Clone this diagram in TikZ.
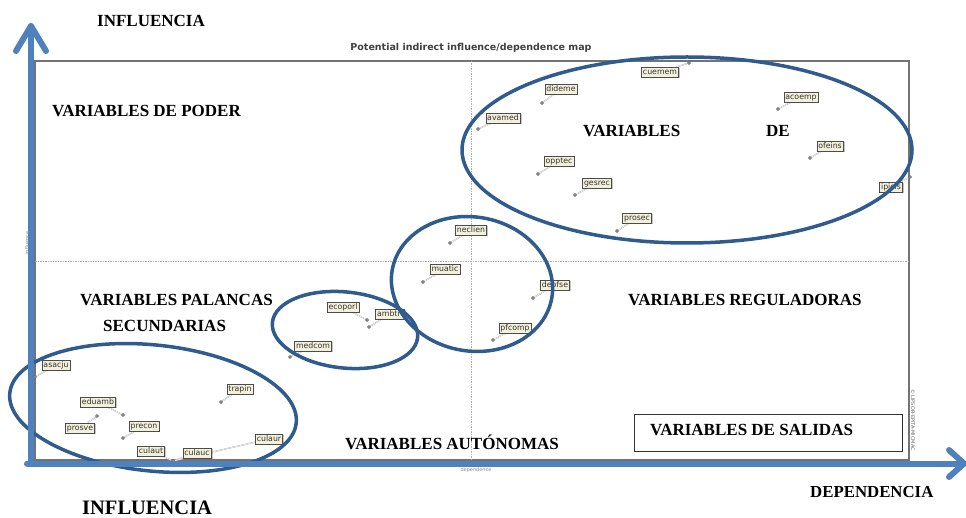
\documentclass[tikz,border=0pt]{standalone}
\usepackage{fontspec}
\setmainfont{Liberation Serif}
\newfontfamily\tagfont{DejaVu Sans}
\usetikzlibrary{shadows}

\definecolor{axisblue}{HTML}{4F81BD}
\definecolor{ringblue}{HTML}{2F5B8E}
\definecolor{tagfill}{HTML}{F3F1DA}

\pgfdeclarelayer{grid}
\pgfdeclarelayer{links}
\pgfsetlayers{grid,links,main}

\begin{document}
\begin{tikzpicture}[x=1pt,y=-1pt,
  axisline/.style={draw=axisblue, line width=6pt, line cap=round, line join=round},
  ring/.style={draw=ringblue, line width=3.5pt},
  zone/.style={font=\fontsize{17}{18}\selectfont\bfseries, anchor=base west, inner sep=0pt},
  tag/.style={draw=black!70, fill=tagfill, text=black!80,
    font=\tagfont\fontsize{7.8}{8}\selectfont, text height=6pt, text depth=1.5pt,
    inner xsep=1.5pt, inner ysep=1.1pt,
    drop shadow={shadow xshift=1.3pt, shadow yshift=-1.3pt, fill=black!45}},
  pin/.style={circle, fill=black!45, draw=black!60, line width=0.3pt, minimum size=3.2pt, inner sep=0pt},
  leader/.style={draw=black!35, double=white, double distance=0.5pt, line width=0.35pt},
  midline/.style={draw=black!30, line width=0.7pt, dash pattern=on 1.5pt off 1pt},
  faint/.style={font=\tagfont\fontsize{5}{6}\selectfont, text=black!45, inner sep=0pt}
]
\useasboundingbox (0,0) rectangle (966,518);

% plot frame, quadrant lines and frame texts
\begin{pgfonlayer}{grid}
  \draw[black!55, line width=1.3pt] (35,61) rectangle (909,460);
  \coordinate (vtop) at (471,61);
  \coordinate (vbot) at (471,460);
  \coordinate (hl) at (35,261);
  \coordinate (hr) at (909,261);
  \draw[midline] (vtop) -- (vbot);
  \draw[midline] (hl) -- (hr);
\end{pgfonlayer}
\node[font=\tagfont\bfseries\fontsize{9.5}{10}\selectfont, text=black!75] (title) at (471,48)
  {Potential indirect influence/dependence map};
\node[faint, rotate=-90, text=black!60] (copyright) at (913,420) {© LIPSOR-EPITA-MICMAC};
\node[faint] (deplabel) at (476,470) {dependence};
\node[faint, rotate=90] (inflabel) at (27,243) {influence};

% variables: name / label position / point position
\foreach \n/\tx/\ty/\mx/\my in {
  cuemem/660/72/689/63, dideme/561/89/542/103, acoemp/801/97/778/109,
  avamed/503/118/478/129, ofeins/830/146/810/158, opptec/559/161/538/174,
  gesrec/597/183/575/195, ipicis/891/187/910/177, prosec/637/218/617/231,
  neclien/471/230/450/243, muatic/445/269/423/282, deofse/555/285/533/298,
  pfcomp/515/328/493/340, ecoporl/343/307/367/320, ambtri/390/314/369/327,
  medcom/313/346/290/357, asacju/56/365/35/377, trapin/240/389/221/402,
  eduamb/98/402/123/415, prosve/80/428/97/416, precon/144/426/123/438}{
  \node[pin] (m-\n) at (\mx,\my) {};
  \node[tag] (\n) at (\tx,\ty) {\n};
  \begin{pgfonlayer}{links}
    \draw[leader] (m-\n) -- (\n);
  \end{pgfonlayer}
}
% three variables sharing one point
\node[pin] (m-cul) at (173,461) {};
\foreach \n/\tx/\ty in {culaut/151/451, culauc/197/453, culaur/269/439}{
  \node[tag] (\n) at (\tx,\ty) {\n};
  \begin{pgfonlayer}{links}
    \draw[leader] (m-cul) -- (\n);
  \end{pgfonlayer}
}

% groups of variables
\draw[ring] (687,150) ellipse [x radius=225pt, y radius=93pt];
\draw[ring, rotate around={-10:(472,284)}] (472,284) ellipse [x radius=81pt, y radius=67pt];
\draw[ring, rotate around={-6:(345,330)}] (345,330) ellipse [x radius=73pt, y radius=38pt];
\draw[ring, rotate around={-6:(153,408)}] (153,408) ellipse [x radius=144pt, y radius=63pt];

% zone names
\node[zone] (poder) at (52,117) {VARIABLES DE PODER};
\node[zone] (enlace1) at (583,137) {VARIABLES};
\node[zone] (enlace2) at (766,137) {DE};
\node[zone] (palancas) at (80,306) {VARIABLES PALANCAS};
\node[zone] (secund) at (103,332) {SECUNDARIAS};
\node[zone] (regul) at (628,306) {VARIABLES REGULADORAS};
\node[zone] (auton) at (345,449) {VARIABLES AUTÓNOMAS};
\node[draw=black!80, line width=0.8pt, minimum width=268pt, minimum height=37pt] (salbox) at (768,432.5) {};
\node[zone] (salidas) at (650,435) {VARIABLES DE SALIDAS};

% axes
\coordinate (origin) at (31,463.5);
\coordinate (ytip) at (31,26);
\coordinate (xtip) at (964,463.5);
\coordinate (xstart) at (27,463.5);
\draw[axisline] (origin) -- (ytip);
\draw[axisline] (16,51) -- (ytip) -- (46,51);
\draw[axisline] (xstart) -- (xtip);
\draw[axisline] (949,450) -- (xtip) -- (949,477);

\node[zone] (yname) at (97,27) {INFLUENCIA};
\node[zone, font=\fontsize{20.5}{22}\selectfont\bfseries] (yname2) at (82,514) {INFLUENCIA};
\node[zone, font=\fontsize{16.8}{18}\selectfont\bfseries] (xname) at (810,497) {DEPENDENCIA};
\end{tikzpicture}
\end{document}
